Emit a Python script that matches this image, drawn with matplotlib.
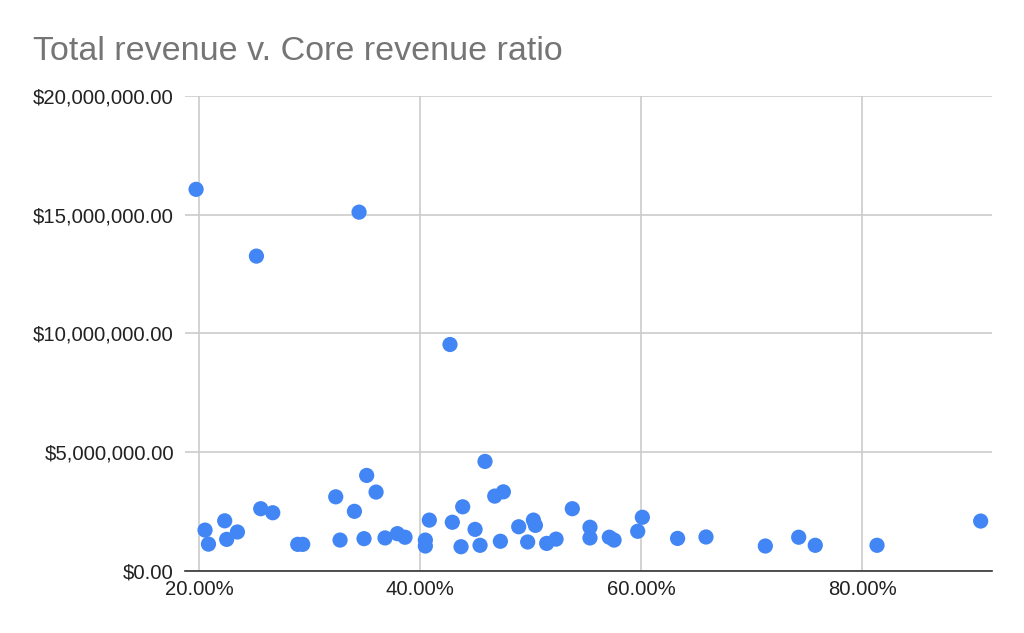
import matplotlib
matplotlib.use("Agg")
from matplotlib import pyplot as plt
from matplotlib.ticker import FuncFormatter, MultipleLocator

plt.rcParams['font.family'] = ['Liberation Sans', 'DejaVu Sans']

# core revenue ratio (%) and total revenue ($)
core_ratio = [19.73, 25.19, 34.48, 42.71,
              20.54, 20.85, 22.32, 22.50, 23.47, 25.58, 26.67, 28.93, 29.38,
              32.37, 32.76, 34.06, 35.17, 34.93, 36.02, 36.83, 37.95, 38.64,
              40.48, 40.48, 40.84, 42.92, 43.86, 43.71, 44.98, 45.88, 45.43,
              46.76, 47.54, 47.27, 48.93, 50.26, 50.44, 49.74, 51.46, 52.31,
              53.78, 55.38, 55.38, 57.13, 57.56, 59.70, 60.12, 63.31, 65.88,
              71.25, 74.27, 75.77, 81.36, 90.74]
total_revenue = [16.06e6, 13.25e6, 15.10e6, 9.53e6,
                 1.72e6, 1.13e6, 2.11e6, 1.33e6, 1.64e6, 2.62e6, 2.45e6, 1.12e6, 1.12e6,
                 3.12e6, 1.30e6, 2.51e6, 4.02e6, 1.36e6, 3.32e6, 1.39e6, 1.57e6, 1.42e6,
                 1.30e6, 1.05e6, 2.14e6, 2.05e6, 2.70e6, 1.02e6, 1.75e6, 4.61e6, 1.08e6,
                 3.15e6, 3.33e6, 1.25e6, 1.86e6, 2.14e6, 1.92e6, 1.22e6, 1.16e6, 1.34e6,
                 2.62e6, 1.84e6, 1.39e6, 1.42e6, 1.30e6, 1.67e6, 2.26e6, 1.37e6, 1.43e6,
                 1.05e6, 1.42e6, 1.08e6, 1.08e6, 2.10e6]

fig = plt.figure(figsize=(10.24, 6.33), dpi=100)
ax = fig.add_axes([0.1807, 0.098, 0.7881, 0.7508])

ax.scatter(core_ratio, total_revenue, s=120, color='#4285F4', edgecolors='none', zorder=3)

ax.set_xlim(18.73, 91.77)
ax.set_ylim(0, 20e6)
ax.xaxis.set_major_locator(MultipleLocator(20))
ax.yaxis.set_major_locator(MultipleLocator(5e6))
ax.xaxis.set_major_formatter(FuncFormatter(lambda v, p: f"{v:.2f}%"))
ax.yaxis.set_major_formatter(FuncFormatter(lambda v, p: f"${v:,.2f}"))

ax.grid(True, color='#cccccc', linewidth=1.2)
ax.set_axisbelow(True)
for s in ['top', 'right', 'left']:
    ax.spines[s].set_visible(False)
ax.spines['bottom'].set_color('#333333')
ax.spines['bottom'].set_linewidth(1.2)
ax.tick_params(axis='both', length=0, labelsize=14.6, labelcolor='#222222')
ax.tick_params(axis='y', pad=8)
ax.tick_params(axis='x', pad=6.5)

fig.text(0.032, 0.905, 'Total revenue v. Core revenue ratio', fontsize=24.5,
         color='#757575', va='baseline')

fig.savefig('out.png', dpi=100)
